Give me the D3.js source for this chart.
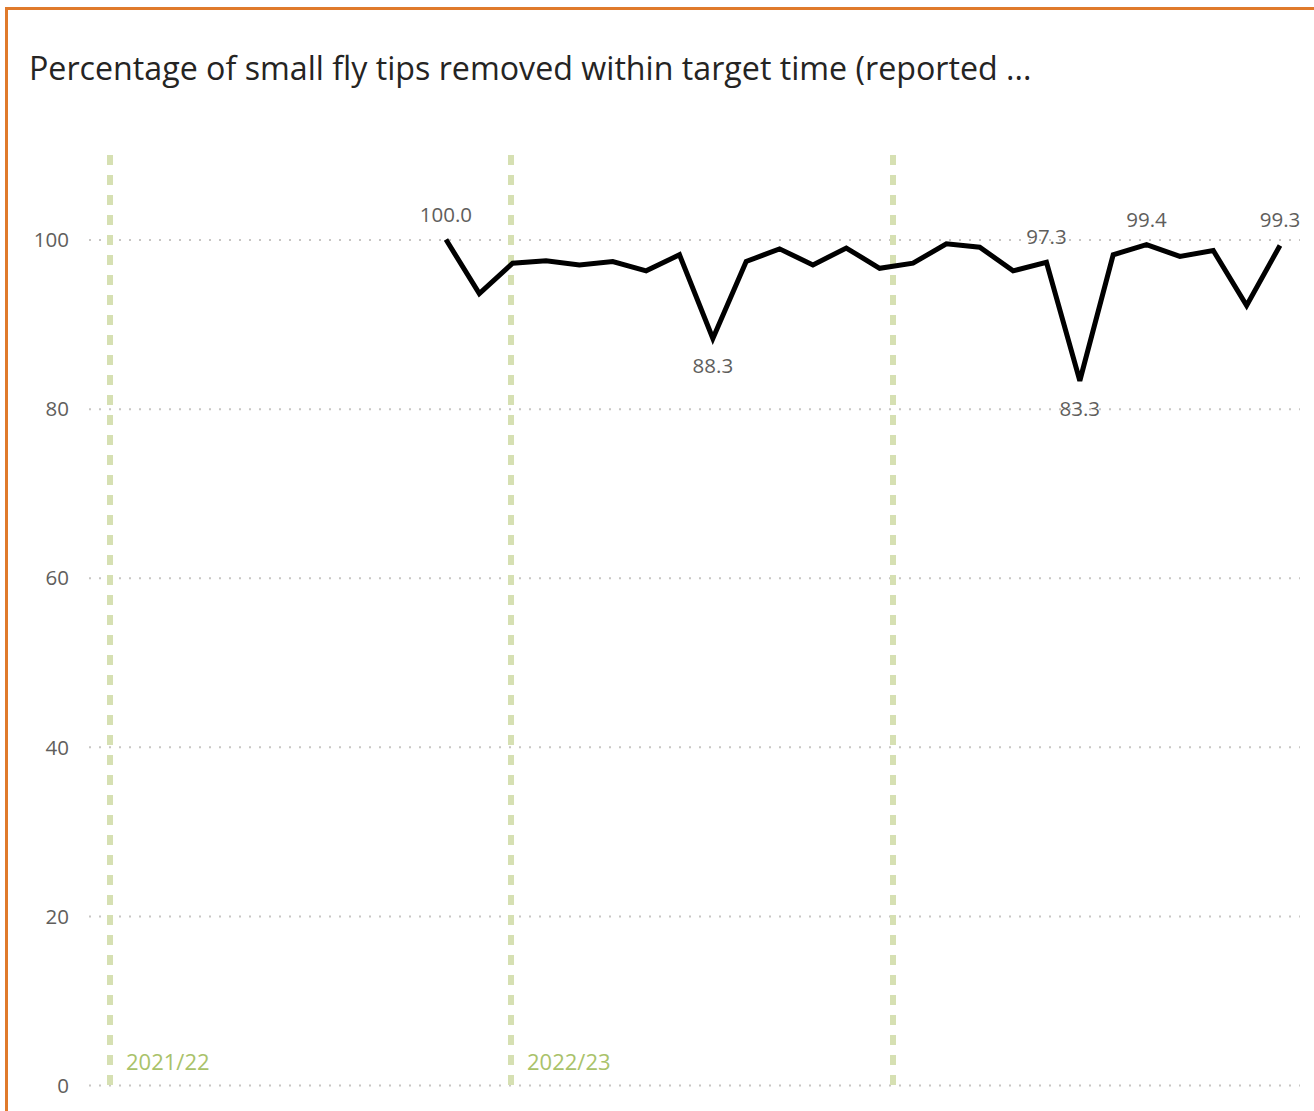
<!DOCTYPE html>
<html><head><meta charset="utf-8">
<script src="https://cdn.jsdelivr.net/npm/d3@7"></script>
<style>
html,body{margin:0;padding:0;background:#fff;}
svg{display:block;font-family:"Segoe UI","Open Sans","Noto Sans",sans-serif;}
</style></head>
<body>
<svg id="chart" width="1314" height="1111"></svg>
<script>
// ---- data ----
const title = "Percentage of small fly tips removed within target time (reported ...";
const months = ["Feb 2022","Mar 2022","Apr 2022","May 2022","Jun 2022","Jul 2022","Aug 2022","Sep 2022","Oct 2022","Nov 2022","Dec 2022","Jan 2023","Feb 2023","Mar 2023","Apr 2023","May 2023","Jun 2023","Jul 2023","Aug 2023","Sep 2023","Oct 2023","Nov 2023","Dec 2023","Jan 2024","Feb 2024","Mar 2024"];
const values = [100.0, 93.6, 97.2, 97.5, 97.0, 97.4, 96.3, 98.2, 88.3, 97.4, 98.9, 97.0, 99.0, 96.6, 97.2, 99.5, 99.1, 96.3, 97.3, 83.3, 98.2, 99.4, 98.0, 98.7, 92.2, 99.3];
const labelledPoints = [0, 8, 18, 19, 21, 25];
const labelBelow = [8, 19];
const yTicks = [0, 20, 40, 60, 80, 100];
const yearLabels = ["2021/22", "2022/23", ""];
const yearMarkerIndex = [-10.07, 1.95, 13.4];
const xDomain = [-10.7, 25.6];
const yDomain = [0, 110];

// ---- layout ----
const svg = d3.select("#chart");
const W = 1314, H = 1111;
const plot = {left: 89, right: 1300, top: 155, bottom: 1085};

// border (top + left)
svg.append("path")
  .attr("d", `M6.5,${H} L6.5,8.5 L${W},8.5`)
  .attr("fill", "none").attr("stroke", "#E07A2B").attr("stroke-width", 3);

svg.append("text").attr("x", 29).attr("y", 80)
  .attr("font-size", 32.2).attr("fill", "#252423").text(title);

const x = d3.scaleLinear().domain(xDomain).range([plot.left, plot.right]);
const y = d3.scaleLinear().domain(yDomain).range([plot.bottom, plot.top]);

// gridlines + y tick labels
const yAxis = d3.axisLeft(y).tickValues(yTicks).tickSize(-(plot.right - plot.left)).tickPadding(20);
const gy = svg.append("g").attr("transform", `translate(${plot.left},0)`).call(yAxis);
gy.select(".domain").remove();
gy.selectAll(".tick line").attr("stroke", "#C8C6C4").attr("stroke-width", 2)
  .attr("stroke-dasharray", "2,8");
gy.selectAll(".tick text").attr("font-size", 20.5).attr("fill", "#605E5C")
  .attr("font-family", "'Segoe UI','Open Sans',sans-serif").attr("dy", "0.35em");

// year markers
const markers = svg.append("g");
yearMarkerIndex.forEach((m, i) => {
  markers.append("line")
    .attr("x1", x(m)).attr("x2", x(m))
    .attr("y1", plot.top).attr("y2", plot.bottom)
    .attr("stroke", "#D6E0B2").attr("stroke-width", 6)
    .attr("stroke-dasharray", "10,10");
  if (yearLabels[i]) {
    markers.append("text").attr("x", x(m) + 16).attr("y", plot.bottom - 15)
      .attr("font-size", 22).attr("fill", "#A9C26A").text(yearLabels[i]);
  }
});

// line
const line = d3.line().x((d, i) => x(i)).y(d => y(d));
svg.append("path").datum(values)
  .attr("d", line).attr("fill", "none").attr("stroke", "#000")
  .attr("stroke-width", 5).attr("stroke-linejoin", "miter").attr("stroke-miterlimit", 3);

// data labels
svg.append("g").selectAll("text").data(labelledPoints).join("text")
  .attr("x", i => x(i))
  .attr("y", i => labelBelow.includes(i) ? y(values[i]) + 35 : y(values[i]) - 18)
  .attr("text-anchor", "middle").attr("font-size", 20.5).attr("fill", "#605E5C")
  .text(i => values[i].toFixed(1));
</script>
</body></html>
